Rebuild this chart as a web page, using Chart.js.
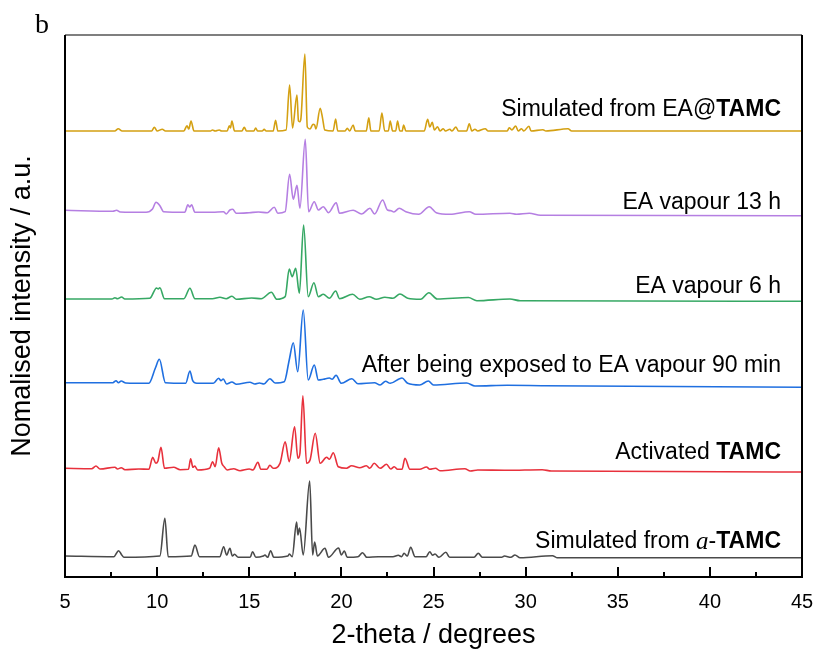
<!DOCTYPE html>
<html>
<head>
<meta charset="utf-8">
<script src="https://cdn.jsdelivr.net/npm/chart.js@4.4.1/dist/chart.umd.min.js"></script>
<style>
  html, body { margin: 0; padding: 0; background: #fff; }
  #wrap { width: 817px; height: 654px; }
</style>
</head>
<body>
<div id="wrap"><canvas id="xrd" width="817" height="654"></canvas></div>
<script>
// 2-theta (deg), stacked intensity (a.u., offsets already included)
const xTicks = [5, 10, 15, 20, 25, 30, 35, 40, 45];

const simEA = [
  [5,446],[7.7,446],[7.89,448.2],[8.1,446],[9.7,446],[9.85,449.7],[10,446],[10.28,447.7],[10.45,446],
  [11.45,446],[11.62,451.3],[11.72,448],[11.84,456],[12,446],[12.9,446],[13,447],[13.15,446],[13.37,447],
  [13.5,446],[13.8,446],[13.92,451.3],[13.98,449],[14.06,456],[14.2,446],[14.6,446],[14.73,449.7],[14.85,446],
  [15.25,446],[15.35,449],[15.45,446],[15.7,446],[15.81,447.7],[15.92,446],[16.3,446],[16.43,456.7],[16.55,446],
  [17,447],[17.19,492],[17.35,449],[17.59,482],[17.67,456],[17.73,455.3],[17.8,458],[18.02,523],[18.15,450],
  [18.3,448],[18.46,452.7],[18.55,452],[18.62,448],[18.85,468.7],[18.98,458.7],[19.1,447],[19.55,446],
  [19.69,458],[19.8,446],[20.2,446],[20.32,448.7],[20.45,446],[20.64,452],[20.75,446],[21.35,446],[21.49,459.3],
  [21.6,446],[22.05,446],[22.2,464],[22.35,446],[22.55,446],[22.65,456],[22.78,446],[22.95,446],[23.05,456],
  [23.17,446],[23.3,446],[23.38,452],[23.5,446],[24.5,446],[24.68,457.7],[24.8,450],[24.93,454.7],[25.05,447],
  [25.22,450.3],[25.35,446],[25.53,448.3],[25.65,446],[25.89,447.7],[26,446],[26.22,450],[26.35,446],[26.8,446],
  [26.94,453.3],[27.08,446],[27.25,447.7],[27.4,446],[27.81,448.3],[27.95,446],[29,446],[29.11,449.3],[29.25,447],
  [29.46,451],[29.6,446],[29.78,448.3],[29.9,446],[30.18,450.7],[30.3,446],[30.94,447.3],[31.1,446],[32.3,448.3],
  [32.5,446],[45,446]
];

const vapour13h = [
  [5,366.7],[7.6,365.7],[7.8,366.8],[8,365],[9.4,364.7],[9.75,368],[9.94,374.7],[10.15,371.3],[10.35,365.3],
  [11.5,364.7],[11.67,372.3],[11.77,370],[11.87,372.3],[12.05,364.7],[13,364.7],[13.6,365.3],[13.75,363],
  [13.95,367],[14.1,367.7],[14.3,363.7],[15,364.3],[15.5,365],[15.98,364.3],[16.36,369.7],[16.55,363.7],
  [16.95,365.3],[17.19,402.7],[17.39,377.7],[17.59,391.7],[17.75,368.7],[18.04,437.7],[18.22,365.3],
  [18.53,375.3],[18.75,367],[19.02,370.3],[19.3,364.3],[19.72,374.3],[19.9,363.7],[20.64,366.7],[21.1,363],
  [21.55,368.7],[21.8,363],[22.24,377],[22.5,367],[22.7,366.3],[22.85,365],[23.14,368.7],[23.5,365.3],
  [24.2,362.7],[24.77,370.3],[25.15,364.3],[25.9,362.7],[26.94,365.3],[27.3,362.7],[29.15,363.7],[29.5,362.7],
  [30.2,363.7],[30.8,361.7],[45,361.3]
];

const vapour6h = [
  [5,278],[7.55,278],[7.71,279.3],[7.85,278.3],[8.07,280],[8.25,278],[9.6,278.7],[9.97,289],[10.06,288],
  [10.15,289.3],[10.4,278.3],[11.45,278.3],[11.78,288.7],[12.05,278.3],[13,278.3],[13.41,279.7],[13.75,278.3],
  [14.06,280.7],[14.3,277.7],[15.13,279],[15.65,278.3],[16.2,284.7],[16.5,277.7],[16.95,280.3],[17.17,308],
  [17.33,300.3],[17.52,308.7],[17.72,283.7],[17.95,352],[18.2,280.3],[18.51,294.3],[18.75,280.3],[19.02,282.7],
  [19.35,278.7],[19.69,286],[19.9,278.3],[20.61,282.7],[21,277.7],[21.51,280.3],[21.9,277.7],[22.36,279.7],
  [22.8,278.7],[23.18,283],[23.6,278.7],[24.3,277.7],[24.75,284.3],[25.2,278],[26.9,279.5],[27.35,276.3],
  [29.15,278],[29.7,276.3],[45,275.7]
];

const vapour90min = [
  [5,194.3],[7.6,194.3],[7.77,196.3],[7.9,194.3],[8.05,196],[8.3,194],[9.55,193.7],[9.9,208.7],[10.12,217.7],
  [10.45,194.3],[11.55,193.7],[11.78,206],[11.93,196.3],[12.15,193.7],[13.05,193.7],[13.34,198.7],[13.47,196.3],
  [13.59,198],[13.77,193],[14.06,195],[14.3,192.7],[15.04,194.7],[15.3,193],[15.55,194],[15.8,193],[16.12,198.3],
  [16.4,194],[16.9,195.3],[17.17,217],[17.39,234.3],[17.63,205.3],[17.93,267],[18.2,197],[18.53,212],[18.75,197],
  [19.02,197.7],[19.35,199],[19.5,197.7],[19.71,201.7],[20,193.7],[20.57,198.3],[20.9,193.3],[21.8,194.3],
  [22.1,192],[22.4,195.7],[22.65,193.7],[23.29,199],[23.6,193.7],[24.25,192],[24.72,196],[25,192],[26.8,194],
  [27.25,191],[29,191.7],[31,191.3],[45,189.7]
];

const activated = [
  [5,108.7],[6.45,108.3],[6.68,111],[6.9,108],[7.71,109.7],[7.85,108],[8.05,109.3],[8.25,107.3],[9,108],
  [9.55,107.7],[9.76,119.7],[9.93,113.7],[10.04,115.7],[10.21,129.7],[10.4,108.7],[10.9,109.7],[11.25,107.3],
  [11.7,107.7],[11.82,118.3],[11.94,109.7],[12.04,111],[12.2,107],[12.85,108.7],[13.01,115.3],[13.15,110.3],
  [13.34,129.3],[13.51,113.7],[13.64,110.3],[13.8,107],[14.15,108.3],[14.5,106.3],[15,108],[15.2,107],
  [15.47,114.7],[15.63,107.7],[15.95,107.7],[16.12,111.7],[16.3,108.7],[16.67,113.7],[16.95,135.3],[17.17,115.3],
  [17.46,150.3],[17.64,118.7],[17.75,123.7],[17.91,181.3],[18.11,113.7],[18.3,117],[18.58,143.7],[18.85,113.7],
  [19.2,119.7],[19.35,117.7],[19.56,124.3],[19.83,110.3],[20.28,108.7],[20.55,111.3],[21,109.3],[21.36,111.3],
  [21.54,108.7],[21.78,113.7],[22.1,108.7],[22.45,112.7],[22.68,108],[22.87,110.3],[23.05,107.7],[23.29,107.7],
  [23.45,118.7],[23.72,107.7],[24.25,107.7],[24.62,110],[24.8,107.7],[25.11,108.7],[25.35,106.3],[26.7,108.3],
  [27,106],[27.4,107],[29,106.7],[30.9,107.3],[31.4,106],[45,105]
];

const simAlpha = [
  [5,21],[7.65,20.3],[7.91,26.3],[8.07,22.3],[8.2,19.7],[10.15,21],[10.42,58.7],[10.6,20.3],[11.85,21],
  [12.05,32],[12.3,20.3],[13.4,20.3],[13.61,30.3],[13.77,22],[13.95,28.7],[14.08,21],[14.2,22.7],[14.4,19.7],
  [15.05,19.7],[15.18,25.3],[15.36,19.7],[15.76,21],[15.85,22],[16,19.7],[16.16,26.3],[16.33,19.7],[17.1,21],
  [17.18,23],[17.33,20.3],[17.57,55],[17.64,42],[17.73,49],[17.93,22],[18.28,96],[18.44,22],[18.55,35],[18.7,21],
  [19.11,28.7],[19.3,19.7],[19.85,29],[20,22],[20.16,26],[20.32,19.7],[20.9,20.3],[21.15,24.3],[21.38,19.7],
  [22,20.3],[22.8,20.3],[23.09,21.7],[23.27,20.3],[23.4,23.7],[23.58,21],[23.76,29.7],[24,20.3],[24.6,20.3],
  [24.8,25.3],[24.95,21.7],[25.08,23],[25.3,19.7],[25.67,24.7],[25.88,19.7],[27.2,19.7],[27.43,23.7],[27.65,19.7],
  [28.7,19.7],[28.85,21],[29.2,19.7],[29.42,22],[29.7,19.3],[31.46,21.3],[31.7,19.3],[45,19.3]
];

const seriesData = [simEA, vapour13h, vapour6h, vapour90min, activated, simAlpha];
const seriesColors = ["#D4A012", "#B57FE2", "#36A864", "#1F6FE0", "#E8313C", "#4A4A4A"];
// label pieces: [text, 0 = plain, 1 = bold, 2 = italic serif]
const seriesLabels = [
  [["Simulated from EA@", 0], ["TAMC", 1]],
  [["EA vapour 13 h", 0]],
  [["EA vapour 6 h", 0]],
  [["After being exposed to EA vapour 90 min", 0]],
  [["Activated ", 0], ["TAMC", 1]],
  [["Simulated from ", 0], ["a", 2], ["-", 0], ["TAMC", 1]]
];
const labelLevel = [467, 374, 290, 211, 124, 35];

const SANS = "Arial, 'Liberation Sans', sans-serif";

const framePlugin = {
  id: "frame",
  afterDraw(chart) {
    const {ctx, chartArea: a, scales} = chart;
    ctx.save();
    // inward ticks, minor every 2.5
    ctx.strokeStyle = "#000";
    ctx.lineWidth = 2;
    for (let v = 5; v <= 45; v += 2.5) {
      const px = Math.round(scales.x.getPixelForValue(v));
      const major = v % 5 === 0;
      ctx.beginPath();
      ctx.moveTo(px, a.bottom);
      ctx.lineTo(px, a.bottom - (major ? 10 : 5));
      ctx.stroke();
    }
    // box
    ctx.strokeStyle = "#555";
    ctx.lineWidth = 1.5;
    ctx.beginPath();
    ctx.moveTo(a.left, a.top); ctx.lineTo(a.right, a.top);
    ctx.stroke();
    ctx.strokeStyle = "#000";
    ctx.lineWidth = 2;
    ctx.beginPath();
    ctx.moveTo(a.left, a.top); ctx.lineTo(a.left, a.bottom); ctx.lineTo(a.right, a.bottom); ctx.lineTo(a.right, a.top);
    ctx.stroke();

    // trace labels
    ctx.fillStyle = "#000";
    ctx.textBaseline = "middle";
    ctx.textAlign = "left";
    const fontFor = k => k === 1 ? "bold 23px " + SANS : k === 2 ? "italic 25px 'Liberation Serif', 'Times New Roman', serif" : "23px " + SANS;
    seriesLabels.forEach((parts, i) => {
      let w = 0;
      parts.forEach(p => { ctx.font = fontFor(p[1]); w += ctx.measureText(p[0]).width; });
      let x = scales.x.getPixelForValue(43.86) - w;
      const y = scales.y.getPixelForValue(labelLevel[i]);
      parts.forEach(p => {
        ctx.font = fontFor(p[1]);
        ctx.fillText(p[0], x, y);
        x += ctx.measureText(p[0]).width;
      });
    });

    // panel letter
    ctx.font = "28px 'Liberation Serif', 'Times New Roman', serif";
    ctx.textAlign = "center";
    ctx.fillText("b", 42, 26);
    ctx.restore();
  }
};

new Chart(document.getElementById("xrd"), {
  type: "line",
  data: {
    datasets: seriesData.map((d, i) => ({
      data: d,
      borderColor: seriesColors[i],
      borderWidth: 1.6,
      pointRadius: 0,
      fill: false,
      cubicInterpolationMode: "monotone"
    }))
  },
  options: {
    responsive: false,
    animation: false,
    layout: { padding: { left: 0, right: 15, top: 35, bottom: 0 } },
    plugins: { legend: { display: false }, tooltip: { enabled: false } },
    scales: {
      x: {
        type: "linear",
        min: 5, max: 45,
        afterBuildTicks: s => { s.ticks = xTicks.map(v => ({ value: v })); },
        afterFit: s => { s.height = 77; s.paddingLeft = 0; s.paddingRight = 0; },
        grid: { display: false, drawTicks: false },
        border: { display: false },
        ticks: { color: "#000", font: { size: 20, family: SANS }, padding: 13 },
        title: { display: true, text: "2-theta / degrees", color: "#000", font: { size: 27, family: SANS }, padding: { top: 0, bottom: 2 } }
      },
      y: {
        min: 0, max: 542,
        afterFit: s => { s.width = 65; },
        grid: { display: false, drawTicks: false },
        border: { display: false },
        ticks: { display: false },
        title: { display: true, text: "Nomalised intensity / a.u.", color: "#000", font: { size: 27, family: SANS }, padding: { top: 6, bottom: 0 } }
      }
    }
  },
  plugins: [framePlugin]
});
</script>
</body>
</html>
